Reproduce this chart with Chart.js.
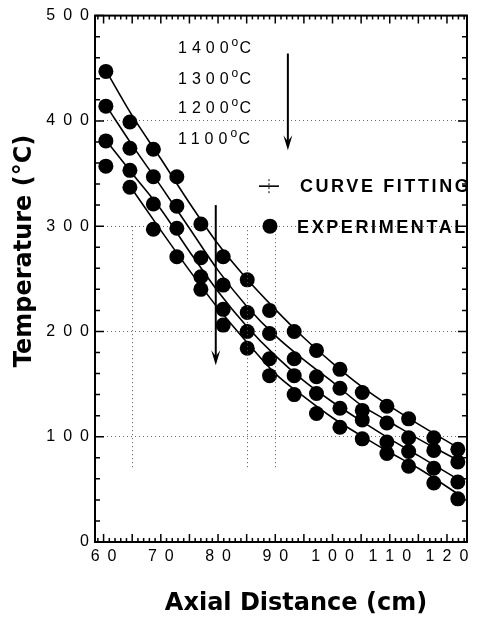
<!DOCTYPE html>
<html>
<head>
<meta charset="utf-8">
<script src="https://cdn.jsdelivr.net/npm/chart.js@4/dist/chart.umd.min.js"></script>
<style>
html, body { margin: 0; padding: 0; background: #fff; }
</style>
</head>
<body>
<canvas id="chart" width="478" height="625"></canvas>
<script>
// measured points (axial distance in cm, temperature in degC)
var xPos = [60.4, 64.6, 68.7, 72.8, 77.0, 80.9, 85.1, 89.0, 93.3, 97.2, 101.3, 105.2, 109.5, 113.3, 117.7, 121.9]
var t1400 = [447, 399, 373, 347, 302, 271, 249, 220, 200, 182, 164, 142, 129, 117, 99, 88]
var t1300 = [414, 374, 347, 319, 270, 244, 218, 198, 174, 157, 146, 125, 113, 99, 87, 76]
var t1200 = [381, 353, 321, 298, 252, 221, 200, 174, 158, 141, 127, 116, 95, 86, 70, 57]
var t1100 = [357, 337, 297, 271, 240, 206, 184, 158, 140, 122, 109, 98, 84, 72, 56, 41]

// fitted curves
var fitX = [60.5, 65, 70, 75, 80, 85, 90, 95, 100, 105, 110, 115, 121.8]
var fit1400 = [447, 405, 364, 322, 283, 250, 221, 194, 170, 148, 129, 112, 90]
var fit1300 = [414, 377, 338, 298, 258, 224, 196, 173, 152, 130, 114, 98, 78]
var fit1200 = [381, 350, 316, 276, 238, 205, 177, 153, 133, 115, 98, 82, 60]
var fit1100 = [null, 335, 296, 258, 222, 190, 160, 138, 118, 101, 85, 70, 46]

var seriesNames = ['1400', '1300', '1200', '1100']
var xTicks = [60, 70, 80, 90, 100, 110, 120]
var yTicks = [0, 100, 200, 300, 400, 500]
var xTitle = 'Axial Distance (cm)'
var yTitle = 'Temperature (\u00b0C)'

function pts(xs, ys) {
    var out = []
    xs.forEach((x, i) => { if (ys[i] != null) out.push({ x: x, y: ys[i] }) })
    return out
}

var datasets = []
;[fit1400, fit1300, fit1200, fit1100].forEach(f => {
    datasets.push({
        data: pts(fitX, f),
        showLine: true,
        borderColor: '#000',
        borderWidth: 1.6,
        pointRadius: 0,
        cubicInterpolationMode: 'monotone'
    })
})
;[t1400, t1300, t1200, t1100].forEach(t => {
    datasets.push({
        data: pts(xPos, t),
        showLine: false,
        pointRadius: 7.5,
        pointBackgroundColor: '#000',
        pointBorderWidth: 0
    })
})

var sp = '\u2002'
function spaced(v) { return String(v).split('').join(sp) }

// frame, inward ticks, labels, arrows, legend, axis titles
var decor = {
    id: 'decor',
    afterDraw(chart) {
        var c = chart.ctx, xs = chart.scales.x, ys = chart.scales.y, a = chart.chartArea
        c.save()
        c.strokeStyle = '#000'
        c.fillStyle = '#000'

        // dotted vertical remnants
        c.lineWidth = 1
        c.setLineDash([1, 3])
        c.strokeStyle = '#555'
        ;[65, 85, 90].forEach(v => {
            var px = Math.round(xs.getPixelForValue(v)) + 0.5
            c.beginPath(); c.moveTo(px, ys.getPixelForValue(300)); c.lineTo(px, ys.getPixelForValue(70)); c.stroke()
        })
        c.setLineDash([])
        c.strokeStyle = '#000'

        c.lineWidth = 2
        c.strokeRect(a.left, a.top, a.right - a.left, a.bottom - a.top)

        c.lineWidth = 1.5
        c.beginPath()
        for (var v = 0; v <= 500; v += 20) {
            var py = ys.getPixelForValue(v)
            var len = v % 100 == 0 ? 9 : 5
            c.moveTo(a.left, py); c.lineTo(a.left + len, py)
            c.moveTo(a.right, py); c.lineTo(a.right - len, py)
        }
        for (var u = 59; u <= 123; u++) {
            var px = xs.getPixelForValue(u)
            var l2 = u % 5 == 0 ? 8 : 4
            c.moveTo(px, a.bottom); c.lineTo(px, a.bottom - l2)
            c.moveTo(px, a.top); c.lineTo(px, a.top + l2)
        }
        c.stroke()

        // temperature labels
        var labelT = [470, 441, 413, 384]
        c.textBaseline = 'alphabetic'
        c.textAlign = 'left'
        seriesNames.forEach((s, i) => {
            var x = xs.getPixelForValue(73)
            var y = ys.getPixelForValue(labelT[i]) + 6
            c.font = '16px "Liberation Sans"'
            c.letterSpacing = '5px'
            c.fillText(s, x, y)
            var w = c.measureText(s).width - 2
            c.font = '12px "Liberation Sans"'
            c.letterSpacing = '0px'
            c.fillText('o', x + w, y - 7)
            c.font = '16px "Liberation Sans"'
            c.fillText('C', x + w + 8, y)
        })

        // arrows
        function arrow(xv, y1, y2) {
            var px = xs.getPixelForValue(xv)
            var p1 = ys.getPixelForValue(y1), p2 = ys.getPixelForValue(y2)
            c.lineWidth = 2
            c.beginPath(); c.moveTo(px, p1); c.lineTo(px, p2 - 6); c.stroke()
            c.beginPath()
            c.moveTo(px, p2); c.lineTo(px - 4.5, p2 - 15); c.lineTo(px, p2 - 9); c.lineTo(px + 4.5, p2 - 15)
            c.closePath(); c.fill()
        }
        arrow(92.2, 464, 372)
        arrow(79.6, 320, 168)

        // legend
        var lx = xs.getPixelForValue(88.9)
        var ly1 = ys.getPixelForValue(338), ly2 = ys.getPixelForValue(300)
        c.lineWidth = 1.6
        c.beginPath(); c.moveTo(lx - 10, ly1); c.lineTo(lx + 10, ly1); c.stroke()
        c.lineWidth = 1
        c.setLineDash([2, 2])
        c.beginPath(); c.moveTo(lx, ly1 - 7); c.lineTo(lx, ly1 + 7); c.stroke()
        c.setLineDash([])
        c.beginPath(); c.arc(lx + 1, ly2, 7.5, 0, Math.PI * 2); c.fill()
        c.font = 'bold 18px "Liberation Sans"'
        c.letterSpacing = '2.6px'
        c.textBaseline = 'middle'
        c.fillText('CURVE FITTING', xs.getPixelForValue(94.3), ly1 + 1)
        c.fillText('EXPERIMENTAL', xs.getPixelForValue(93.8), ly2 + 2)
        c.letterSpacing = '0px'

        // axis titles
        c.font = 'bold 24px "DejaVu Sans"'
        c.textAlign = 'center'
        c.textBaseline = 'middle'
        c.fillText(xTitle, 296, 604)
        c.translate(25, 251)
        c.rotate(-Math.PI / 2)
        c.fillText(yTitle, 0, 0)
        c.restore()
    }
}

new Chart(document.getElementById('chart'), {
    type: 'scatter',
    data: { datasets: datasets },
    options: {
        responsive: false,
        animation: false,
        layout: { padding: { left: 0, right: 11, top: 15, bottom: 0 } },
        plugins: { legend: { display: false }, tooltip: { enabled: false } },
        scales: {
            x: {
                type: 'linear',
                min: 58.5,
                max: 123.5,
                afterBuildTicks: s => { s.ticks = xTicks.map(v => ({ value: v })) },
                afterFit: s => { s.height = 83 },
                grid: { display: false, drawTicks: false },
                border: { display: false },
                ticks: {
                    color: '#000',
                    padding: 5,
                    maxRotation: 0,
                    font: { family: 'Liberation Sans', size: 16 },
                    callback: v => spaced(v)
                },
                title: { display: false }
            },
            y: {
                min: 0,
                max: 500,
                afterBuildTicks: s => { s.ticks = yTicks.map(v => ({ value: v })) },
                afterFit: s => { s.width = 95 },
                grid: {
                    drawTicks: false,
                    color: ctx => (ctx.tick && ctx.tick.value > 0 && ctx.tick.value < 500) ? '#666' : 'rgba(0,0,0,0)',
                    lineWidth: 1
                },
                border: { display: false, dash: [1, 3] },
                ticks: {
                    color: '#000',
                    padding: 6,
                    font: { family: 'Liberation Sans', size: 16 },
                    callback: v => spaced(v)
                },
                title: { display: false }
            }
        }
    },
    plugins: [decor]
})
</script>
</body>
</html>
